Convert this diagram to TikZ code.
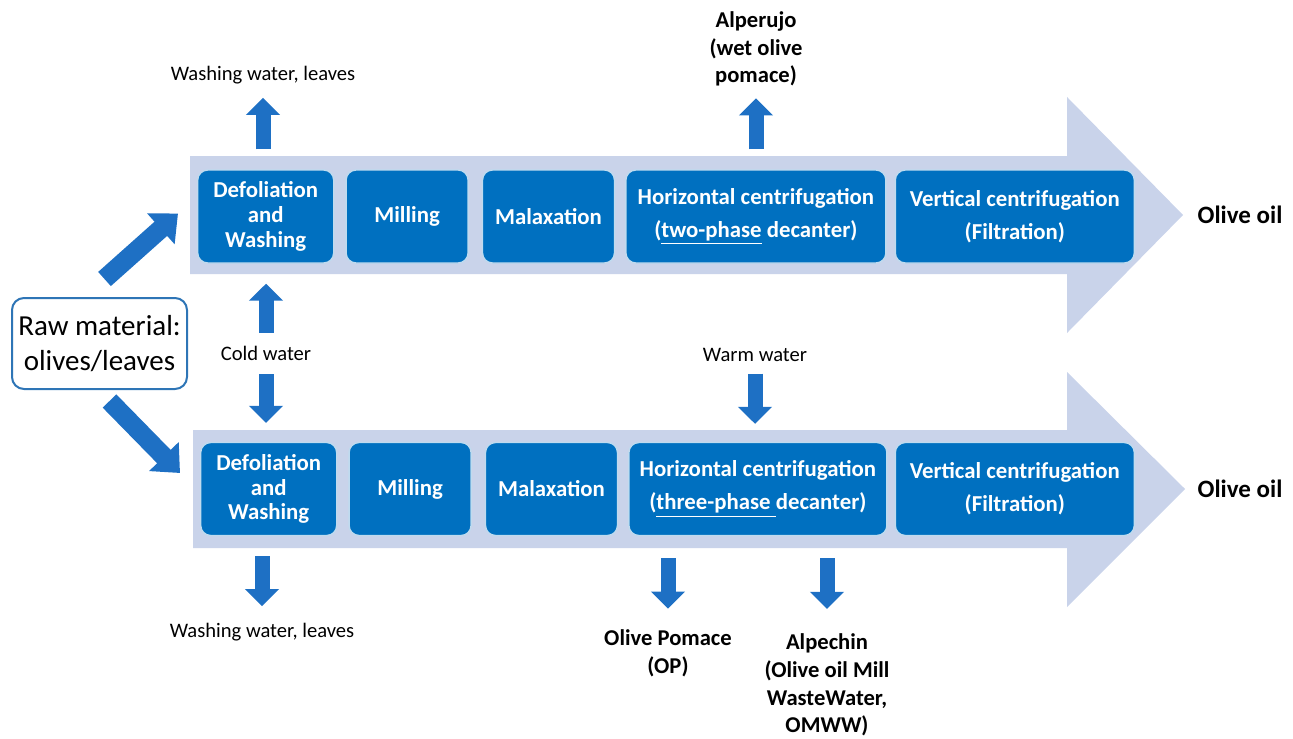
\documentclass[tikz,border=0pt]{standalone}
\usepackage{fontspec}
\setmainfont{Carlito}
\usetikzlibrary{positioning,calc,arrows.meta}
\definecolor{procblue}{RGB}{0,112,192}
\definecolor{arrowblue}{RGB}{30,112,196}
\definecolor{bandblue}{RGB}{201,211,234}
\definecolor{rawline}{RGB}{46,117,182}
\tikzset{
  stepbox/.style={rectangle, rounded corners=5pt, fill=procblue, draw=white!75!procblue,
    line width=0.7pt, text=white, font=\fontsize{11.4}{12.3}\selectfont\bfseries,
    align=center, minimum height=46.5pt, inner sep=0pt},
  sidelabel/.style={inner sep=0pt, font=\fontsize{10.3}{12}\selectfont, align=center},
  outlabel/.style={inner sep=0pt, font=\fontsize{11.3}{13.9}\selectfont\bfseries, align=center},
  oillabel/.style={inner sep=0pt, font=\fontsize{12.5}{14}\selectfont\bfseries},
  flowarrow/.style={draw=arrowblue, line width=7.5pt, -{Triangle[width=16.5pt,length=8.5pt]}},
  bigarrow/.style={draw=arrowblue, line width=9.5pt, -{Triangle[width=20pt,length=11.5pt]}},
}
\begin{document}
\begin{tikzpicture}[x=0.5pt, y=-0.5pt]
  \useasboundingbox (0,0) rectangle (1293,738);

  % background process arrows
  \fill[bandblue] (190,156) -- (1067,156) -- (1067,97) -- (1183,215) -- (1067,333) -- (1067,274) -- (190,274) -- cycle;
  \fill[bandblue] (193,430) -- (1067,430) -- (1067,372) -- (1185,489) -- (1067,607) -- (1067,548) -- (193,548) -- cycle;

  % raw material
  \node[draw=rawline, line width=1pt, rounded corners=6pt, fill=white, minimum width=87.5pt,
    minimum height=45.5pt, align=center, inner sep=0pt, font=\fontsize{14.5}{17.5}\selectfont]
    (raw) at (99.5,343.5) {Raw material:\\olives/leaves};

  % two-phase line
  \node[stepbox, minimum width=68pt, anchor=west] (D1) at (197,216.5) {Defoliation\\and\\Washing};
  \node[stepbox, minimum width=61pt, right=5.5pt of D1] (M1) {Milling};
  \node[stepbox, minimum width=66pt, right=6.5pt of M1] (X1) {Malaxation};
  \node[stepbox, minimum width=130pt, right=5pt of X1] (H1) {Horizontal centrifugation\\[4.2pt](\underline{two-phase} decanter)};
  \node[stepbox, minimum width=119.5pt, right=4pt of H1] (V1) {Vertical centrifugation\\[4.2pt](Filtration)};
  \node[oillabel] (oil1) at (1240,215) {Olive oil};

  % three-phase line
  \node[stepbox, minimum width=68pt, anchor=west] (D2) at (200,489) {Defoliation\\and\\Washing};
  \node[stepbox, minimum width=61pt, right=5.5pt of D2] (M2) {Milling};
  \node[stepbox, minimum width=66pt, right=6.5pt of M2] (X2) {Malaxation};
  \node[stepbox, minimum width=129pt, right=5pt of X2] (H2) {Horizontal centrifugation\\[4.2pt](\underline{three-phase\ }decanter)};
  \node[stepbox, minimum width=119.5pt, right=3.5pt of H2] (V2) {Vertical centrifugation\\[4.2pt](Filtration)};
  \node[oillabel] (oil2) at (1240,489) {Olive oil};

  % inputs and outputs
  \node[sidelabel] (wwtop) at (263,75) {Washing water, leaves};
  \node[sidelabel] (cold) at (266,353) {Cold water};
  \node[sidelabel] (wwbot) at (262,632) {Washing water, leaves};
  \node[sidelabel] (warm) at (755,355) {Warm water};
  \node[outlabel] (alperujo) at (756,49) {Alperujo\\(wet olive\\pomace)};
  \node[outlabel] (op) at (668,653) {Olive Pomace\\(OP)};
  \node[outlabel] (alpechin) at (827,685) {Alpechin\\(Olive oil Mill\\WasteWater,\\OMWW)};

  % feed arrows
  \draw[bigarrow] ($(raw.north)+(2.5pt,9pt)$) -- ($(D1.west)+(-9.5pt,1.5pt)$);
  \draw[bigarrow] ($(raw.south)+(5pt,-5.5pt)$) -- ($(D2.west)+(-10pt,8pt)$);

  % stream arrows
  \draw[flowarrow, shorten <=10pt, shorten >=6.8pt] (wwtop.south |- D1.north) -- (wwtop.south);
  \draw[flowarrow, shorten <=6.3pt, shorten >=10pt] (cold.north) -- (cold.north |- D1.south);
  \draw[flowarrow, shorten <=6.8pt, shorten >=9.5pt] (cold.south) -- (cold.south |- D2.north);
  \draw[flowarrow, shorten <=10pt, shorten >=8.3pt] (wwbot.north |- D2.south) -- (wwbot.north);
  \draw[flowarrow, shorten <=10pt, shorten >=5.7pt] (alperujo.south |- H1.north) -- (alperujo.south);
  \draw[flowarrow, shorten <=5.8pt, shorten >=9pt] (warm.south) -- (warm.south |- H2.north);
  \draw[flowarrow, shorten <=11pt, shorten >=10.2pt] (op.north |- H2.south) -- (op.north);
  \draw[flowarrow, shorten <=11pt, shorten >=12.2pt] (alpechin.north |- H2.south) -- (alpechin.north);
\end{tikzpicture}
\end{document}
